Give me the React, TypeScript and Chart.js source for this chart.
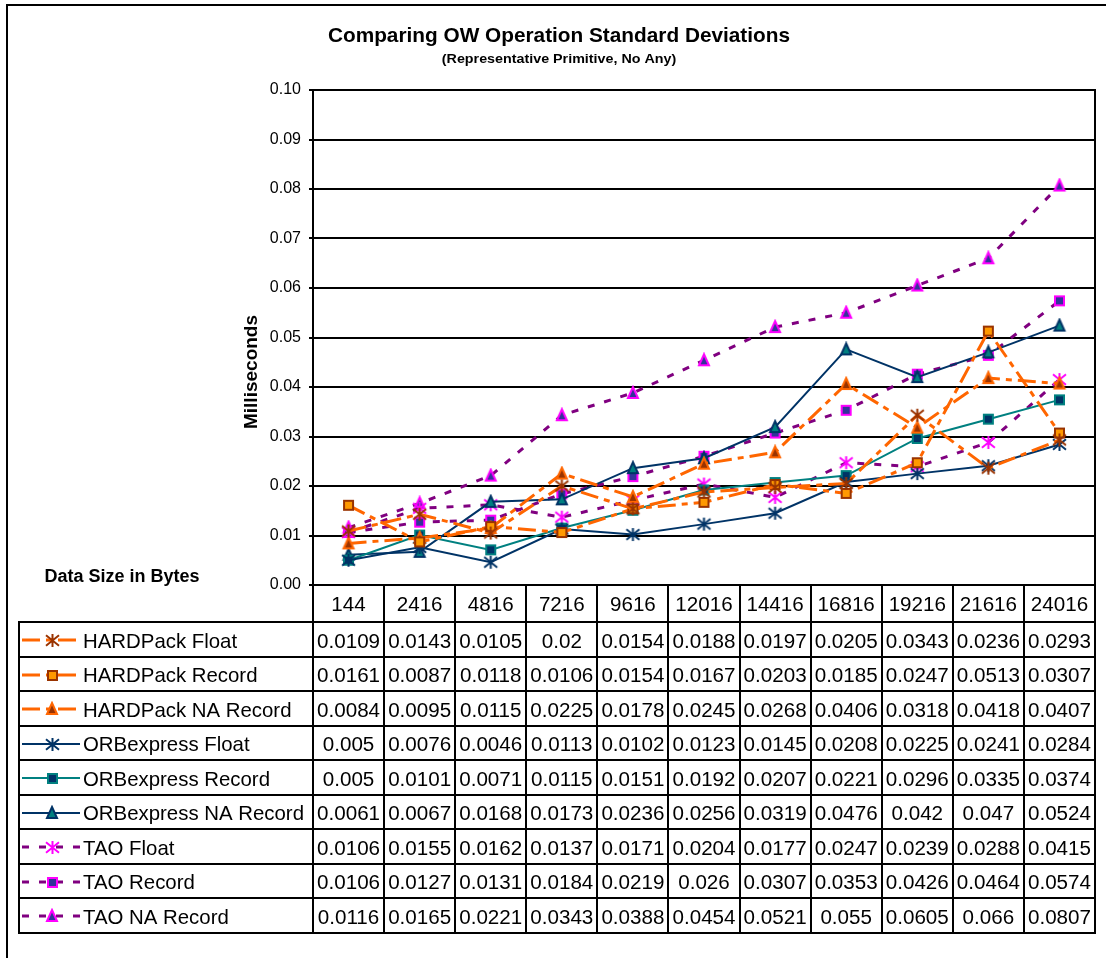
import React, { useEffect, useRef } from "react";
import { Chart, registerables } from "chart.js";

Chart.register(...registerables);

const CATEGORIES = ["144", "2416", "4816", "7216", "9616", "12016", "14416", "16816", "19216", "21616", "24016"];

const HARDPACK_FLOAT = [0.0109, 0.0143, 0.0105, 0.02, 0.0154, 0.0188, 0.0197, 0.0205, 0.0343, 0.0236, 0.0293];
const HARDPACK_RECORD = [0.0161, 0.0087, 0.0118, 0.0106, 0.0154, 0.0167, 0.0203, 0.0185, 0.0247, 0.0513, 0.0307];
const HARDPACK_NA_RECORD = [0.0084, 0.0095, 0.0115, 0.0225, 0.0178, 0.0245, 0.0268, 0.0406, 0.0318, 0.0418, 0.0407];
const ORBEXPRESS_FLOAT = [0.005, 0.0076, 0.0046, 0.0113, 0.0102, 0.0123, 0.0145, 0.0208, 0.0225, 0.0241, 0.0284];
const ORBEXPRESS_RECORD = [0.005, 0.0101, 0.0071, 0.0115, 0.0151, 0.0192, 0.0207, 0.0221, 0.0296, 0.0335, 0.0374];
const ORBEXPRESS_NA_RECORD = [0.0061, 0.0067, 0.0168, 0.0173, 0.0236, 0.0256, 0.0319, 0.0476, 0.042, 0.047, 0.0524];
const TAO_FLOAT = [0.0106, 0.0155, 0.0162, 0.0137, 0.0171, 0.0204, 0.0177, 0.0247, 0.0239, 0.0288, 0.0415];
const TAO_RECORD = [0.0106, 0.0127, 0.0131, 0.0184, 0.0219, 0.026, 0.0307, 0.0353, 0.0426, 0.0464, 0.0574];
const TAO_NA_RECORD = [0.0116, 0.0165, 0.0221, 0.0343, 0.0388, 0.0454, 0.0521, 0.055, 0.0605, 0.066, 0.0807];

const SERIES_NAMES = [
  "HARDPack Float",
  "HARDPack Record",
  "HARDPack NA Record",
  "ORBexpress Float",
  "ORBexpress Record",
  "ORBexpress NA Record",
  "TAO Float",
  "TAO Record",
  "TAO NA Record",
];
const SERIES_VALUES = [
  HARDPACK_FLOAT,
  HARDPACK_RECORD,
  HARDPACK_NA_RECORD,
  ORBEXPRESS_FLOAT,
  ORBEXPRESS_RECORD,
  ORBEXPRESS_NA_RECORD,
  TAO_FLOAT,
  TAO_RECORD,
  TAO_NA_RECORD,
];

const Y_MIN = 0;
const Y_MAX = 0.1;
const Y_STEP = 0.01;

const TITLE = "Comparing OW Operation Standard Deviations";
const SUBTITLE = "(Representative Primitive, No Any)";
const Y_TITLE = "Milliseconds";
const X_TITLE = "Data Size in Bytes";

const FONT = '"Liberation Sans", Arial, Helvetica, sans-serif';

type MarkerKind = "star" | "square" | "triangle";
type SeriesStyle = {
  color: string;
  width: number;
  dash: number[];
  marker: MarkerKind;
  fill: string;
  stroke: string;
  size: number;
};

const HP_DASH = [18, 6, 6, 6];
const TAO_DASH = [7, 10];

const STYLES: SeriesStyle[] = [
  { color: "#FF6600", width: 3, dash: HP_DASH, marker: "star", fill: "#993300", stroke: "#993300", size: 13 },
  { color: "#FF6600", width: 3, dash: HP_DASH, marker: "square", fill: "#FF9900", stroke: "#993300", size: 9 },
  { color: "#FF6600", width: 3, dash: HP_DASH, marker: "triangle", fill: "#993300", stroke: "#FF6600", size: 10 },
  { color: "#003366", width: 2, dash: [], marker: "star", fill: "#003366", stroke: "#003366", size: 13 },
  { color: "#008080", width: 2, dash: [], marker: "square", fill: "#003366", stroke: "#008080", size: 9 },
  { color: "#003366", width: 2, dash: [], marker: "triangle", fill: "#008080", stroke: "#003366", size: 10 },
  { color: "#800080", width: 3, dash: TAO_DASH, marker: "star", fill: "#FF00FF", stroke: "#FF00FF", size: 13 },
  { color: "#800080", width: 3, dash: TAO_DASH, marker: "square", fill: "#333399", stroke: "#FF00FF", size: 9 },
  { color: "#800080", width: 3, dash: TAO_DASH, marker: "triangle", fill: "#333399", stroke: "#FF00FF", size: 10 },
];

const W = 1106;
const H = 958;
const PLOT_LEFT = 313;
const PLOT_TOP = 90;
const PLOT_RIGHT_PAD = 11;
const PLOT_BOTTOM_PAD = 373;
const HEADER_H = 37;
const ROW_H = 34.5;
const TABLE_LEFT = 19;
const KEY_START = 22;
const KEY_END = 80;
const KEY_MARKER_X = 52;
const NAME_X = 83;

function makeMarker(s: SeriesStyle): HTMLCanvasElement {
  const pad = 3;
  const c = document.createElement("canvas");
  const dim = s.size + pad * 2;
  c.width = dim;
  c.height = dim;
  const ctx = c.getContext("2d")!;
  const cx = dim / 2;
  const cy = dim / 2;
  const r = s.size / 2;
  if (s.marker === "star") {
    ctx.strokeStyle = s.stroke;
    ctx.lineWidth = 2;
    ctx.lineCap = "butt";
    ctx.beginPath();
    ctx.moveTo(cx, cy - r);
    ctx.lineTo(cx, cy + r);
    ctx.moveTo(cx - r, cy - r * 0.8);
    ctx.lineTo(cx + r, cy + r * 0.8);
    ctx.moveTo(cx + r, cy - r * 0.8);
    ctx.lineTo(cx - r, cy + r * 0.8);
    ctx.stroke();
  } else if (s.marker === "square") {
    ctx.fillStyle = s.fill;
    ctx.fillRect(cx - r, cy - r, s.size, s.size);
    ctx.strokeStyle = s.stroke;
    ctx.lineWidth = 2;
    ctx.strokeRect(cx - r, cy - r, s.size, s.size);
  } else {
    ctx.beginPath();
    ctx.moveTo(cx, cy - r - 1);
    ctx.lineTo(cx + r, cy + r);
    ctx.lineTo(cx - r, cy + r);
    ctx.closePath();
    ctx.fillStyle = s.fill;
    ctx.fill();
    ctx.strokeStyle = s.stroke;
    ctx.lineWidth = 2;
    ctx.stroke();
  }
  return c;
}

function drawText(
  ctx: CanvasRenderingContext2D,
  text: string,
  x: number,
  y: number,
  font: string,
  align: CanvasTextAlign,
  sx = 1
) {
  ctx.save();
  ctx.font = font;
  ctx.textAlign = align;
  ctx.textBaseline = "middle";
  ctx.fillStyle = "#000";
  ctx.translate(x, y);
  ctx.scale(sx, 1);
  ctx.fillText(text, 0, 0);
  ctx.restore();
}

function hLine(ctx: CanvasRenderingContext2D, x1: number, x2: number, y: number) {
  ctx.beginPath();
  ctx.moveTo(x1, Math.round(y));
  ctx.lineTo(x2, Math.round(y));
  ctx.stroke();
}
function vLine(ctx: CanvasRenderingContext2D, x: number, y1: number, y2: number) {
  ctx.beginPath();
  ctx.moveTo(Math.round(x), y1);
  ctx.lineTo(Math.round(x), y2);
  ctx.stroke();
}

export default function App() {
  const ref = useRef<HTMLCanvasElement | null>(null);

  useEffect(() => {
    if (!ref.current) return;
    const markers = STYLES.map((s) => makeMarker(s));

    const decor = {
      id: "decor",
      afterDraw(chart: any) {
        const ctx: CanvasRenderingContext2D = chart.ctx;
        const area = chart.chartArea;
        const xs = chart.scales.x;
        ctx.save();
        ctx.strokeStyle = "#000";
        ctx.lineWidth = 2;
        // outer frame
        ctx.beginPath();
        ctx.moveTo(7, H);
        ctx.lineTo(7, 5);
        ctx.lineTo(W, 5);
        ctx.stroke();

        // titles
        drawText(ctx, TITLE, 559, 36, `bold 21px ${FONT}`, "center", 0.99);
        drawText(ctx, SUBTITLE, 559, 59, `bold 13px ${FONT}`, "center", 1.1);
        drawText(ctx, X_TITLE, 122, 577, `bold 18px ${FONT}`, "center");
        ctx.save();
        ctx.translate(252, 372);
        ctx.rotate(-Math.PI / 2);
        drawText(ctx, Y_TITLE, 0, 0, `bold 19px ${FONT}`, "center");
        ctx.restore();

        // table geometry from the x scale
        const n = CATEGORIES.length;
        const colW = xs.getPixelForValue(1) - xs.getPixelForValue(0);
        const top = area.bottom;
        const headerBottom = top + HEADER_H;
        const bottom = headerBottom + SERIES_NAMES.length * ROW_H;

        ctx.strokeStyle = "#000";
        ctx.lineWidth = 2;
        for (let i = 0; i <= n; i++) {
          const x = i < n ? xs.getPixelForValue(i) - colW / 2 : xs.getPixelForValue(n - 1) + colW / 2;
          vLine(ctx, x, top, bottom + 1);
        }
        // right plot border
        vLine(ctx, area.right, area.top - 1, bottom + 1);
        vLine(ctx, TABLE_LEFT, headerBottom - 1, bottom + 1);
        hLine(ctx, TABLE_LEFT - 1, area.right + 1, headerBottom);
        for (let r = 0; r < SERIES_NAMES.length; r++) {
          hLine(ctx, TABLE_LEFT - 1, area.right + 1, headerBottom + (r + 1) * ROW_H);
        }

        const numFont = `20px ${FONT}`;
        const nameFont = `20.4px ${FONT}`;
        for (let i = 0; i < n; i++) {
          drawText(ctx, CATEGORIES[i], xs.getPixelForValue(i), top + HEADER_H / 2 + 2, numFont, "center", 1.03);
        }
        for (let r = 0; r < SERIES_NAMES.length; r++) {
          const cy = headerBottom + r * ROW_H + ROW_H / 2 + 3;
          const st = STYLES[r];
          const ky = Math.round(cy - 2);
          // key
          ctx.save();
          ctx.strokeStyle = st.color;
          ctx.lineWidth = st.width;
          ctx.setLineDash(st.dash);
          ctx.beginPath();
          ctx.moveTo(KEY_START, ky);
          ctx.lineTo(KEY_END, ky);
          ctx.stroke();
          ctx.restore();
          const m = markers[r];
          ctx.drawImage(m, Math.round(KEY_MARKER_X - m.width / 2), Math.round(ky - m.height / 2));
          drawText(ctx, SERIES_NAMES[r], NAME_X, cy, nameFont, "left", 1);
          const vals = SERIES_VALUES[r];
          for (let i = 0; i < n; i++) {
            drawText(ctx, String(vals[i]), xs.getPixelForValue(i), cy, numFont, "center", 1.03);
          }
        }
        ctx.restore();
      },
    };

    const chart = new Chart(ref.current, {
      type: "line",
      data: {
        labels: CATEGORIES,
        datasets: SERIES_NAMES.map((name, i) => ({
          label: name,
          data: SERIES_VALUES[i],
          borderColor: STYLES[i].color,
          borderWidth: STYLES[i].width,
          borderDash: STYLES[i].dash,
          pointStyle: markers[i],
          pointRadius: 6,
          tension: 0,
          fill: false,
        })),
      },
      options: {
        responsive: false,
        animation: false,
        events: [],
        layout: {
          padding: { left: 0, top: PLOT_TOP, right: PLOT_RIGHT_PAD, bottom: PLOT_BOTTOM_PAD },
        },
        plugins: {
          legend: { display: false },
          title: { display: false },
          tooltip: { enabled: false },
        },
        scales: {
          x: {
            type: "category",
            offset: true,
            display: false,
          },
          y: {
            min: Y_MIN,
            max: Y_MAX,
            afterFit: (scale: any) => {
              scale.width = PLOT_LEFT;
            },
            ticks: {
              stepSize: Y_STEP,
              color: "#000",
              padding: 8,
              font: { family: FONT, size: 16 },
              callback: (v: any) => Number(v).toFixed(2),
            },
            grid: {
              color: "#000",
              lineWidth: 2,
              drawTicks: true,
              tickLength: 4,
            },
            border: { display: true, color: "#000", width: 2 },
          },
        },
      },
      plugins: [decor],
    });
    return () => chart.destroy();
  }, []);

  return (
    <div style={{ position: "absolute", left: 0, top: 0, width: W, height: H, background: "#fff" }}>
      <canvas ref={ref} width={W} height={H} style={{ display: "block" }} />
    </div>
  );
}
